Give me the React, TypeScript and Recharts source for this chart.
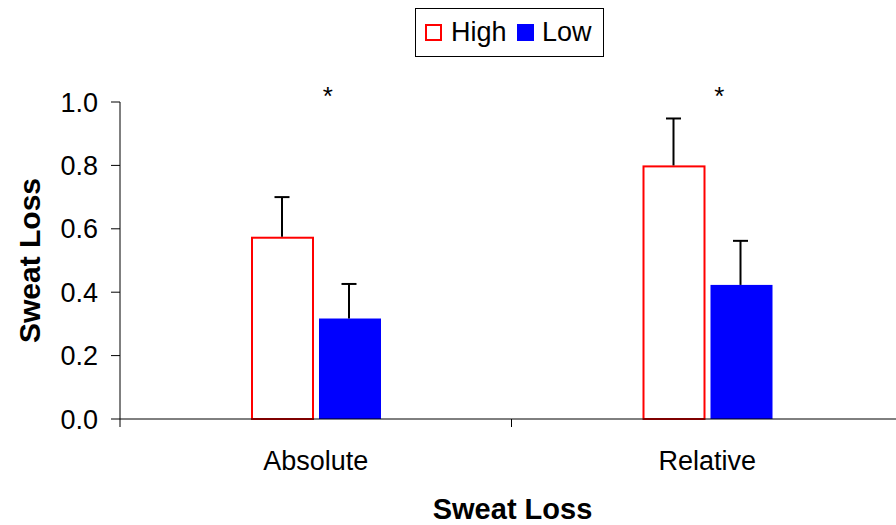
import React from 'react';
import { BarChart, Bar, XAxis, YAxis, ReferenceDot, Legend } from 'recharts';

// Group labels along the x axis
const categories = ['Absolute', 'Relative'];
// Mean values and upper error (SD) for each condition
const highValues = [0.575, 0.8];
const highErrors = [0.125, 0.148];
const lowValues = [0.317, 0.423];
const lowErrors = [0.109, 0.139];
// Groups marked as significantly different
const significantGroups = ['Absolute', 'Relative'];
const yTicks = [0, 0.2, 0.4, 0.6, 0.8, 1.0];
const starLevel = 1.038;

const FONT = "'Liberation Sans', Arial, Helvetica, sans-serif";

const data = categories.map((category, i) => ({
  category,
  high: highValues[i],
  highErr: highErrors[i],
  low: lowValues[i],
  lowErr: lowErrors[i],
}));

const series = [
  { key: 'high', errKey: 'highErr', name: 'High', fill: '#FFFFFF', stroke: '#FF0000' },
  { key: 'low', errKey: 'lowErr', name: 'Low', fill: '#0000FF', stroke: 'none' },
];

// Bar with an upward-only error whisker, scaled from the bar's own pixel height
const makeBarShape = (valueKey: string, errKey: string, fill: string, stroke: string) =>
  (props: any) => {
    const { x, y, width, height, payload } = props;
    const v = payload[valueKey];
    const e = payload[errKey];
    const pxPerUnit = v ? height / v : 0;
    const cx = x + width / 2;
    const top = y - e * pxPerUnit;
    const outlined = stroke !== 'none';
    return (
      <g>
        <rect
          x={outlined ? x + 1 : x + 1}
          y={outlined ? y + 1 : y}
          width={outlined ? width - 1 : width}
          height={outlined ? height - 1 : height}
          fill={fill}
          stroke={stroke}
          strokeWidth={outlined ? 2 : 0}
        />
        <line x1={cx} x2={cx} y1={y} y2={top} stroke="#000" strokeWidth={2} />
        <line x1={cx - 7.5} x2={cx + 7.5} y1={top} y2={top} stroke="#000" strokeWidth={2} />
      </g>
    );
  };

// Category label with tick marks on the band boundaries
const CategoryTick = (props: any) => {
  const { x, y, payload } = props;
  const half = payload && typeof payload.offset === 'number' ? payload.offset : 0;
  const axisY = y - 8;
  return (
    <g>
      {half > 0 && (
        <>
          <line x1={x - half} x2={x - half} y1={axisY} y2={axisY + 8} stroke="#000" strokeWidth={1} />
          <line x1={x + half} x2={x + half} y1={axisY} y2={axisY + 8} stroke="#000" strokeWidth={1} />
        </>
      )}
      <text x={x} y={axisY + 51} textAnchor="middle" fontSize={27} fill="#000" fontFamily={FONT}>
        {payload.value}
      </text>
    </g>
  );
};

const YTitle = (props: any) => {
  const vb = props.viewBox || { x: 0, y: 102, width: 120, height: 317 };
  const bx = vb.x + 40;
  const cy = vb.y + vb.height / 2;
  return (
    <text
      x={bx}
      y={cy}
      transform={`rotate(-90, ${bx}, ${cy})`}
      textAnchor="middle"
      fontSize={30}
      fontWeight="bold"
      fill="#000"
      fontFamily={FONT}
    >
      Sweat Loss
    </text>
  );
};

const XTitle = (props: any) => {
  const vb = props.viewBox || { x: 120, y: 419, width: 783, height: 106 };
  return (
    <text
      x={vb.x + vb.width / 2 + 1}
      y={vb.y + 100}
      textAnchor="middle"
      fontSize={29}
      fontWeight="bold"
      fill="#000"
      fontFamily={FONT}
    >
      Sweat Loss
    </text>
  );
};

const Star = (props: any) => {
  const { cx, cy } = props;
  return (
    <text x={cx + 12} y={cy + 15} textAnchor="middle" fontSize={26} fill="#000" fontFamily={FONT}>
      *
    </text>
  );
};

const LegendBox = () => {
  const swatchLeft = [10, 102];
  const textLeft = [36, 127];
  return (
    <div
      style={{
        position: 'relative',
        width: 189,
        height: 49,
        border: '1px solid #000',
        boxSizing: 'border-box',
        background: '#fff',
        fontFamily: FONT,
        fontSize: 27,
        lineHeight: '27px',
        color: '#000',
      }}
    >
      {series.map((s, i) => (
        <React.Fragment key={s.key}>
          <div
            style={{
              position: 'absolute',
              left: swatchLeft[i] - 1,
              top: 15,
              width: 17,
              height: 17,
              boxSizing: 'border-box',
              background: s.fill,
              border: s.stroke !== 'none' ? `2px solid ${s.stroke}` : 'none',
            }}
          />
          <span style={{ position: 'absolute', left: textLeft[i] - 1, top: 10, whiteSpace: 'nowrap' }}>
            {s.name}
          </span>
        </React.Fragment>
      ))}
    </div>
  );
};

export default function App() {
  return (
    <div
      style={{
        position: 'absolute',
        left: 0,
        top: 0,
        width: 896,
        height: 525,
        overflow: 'hidden',
        background: '#fff',
      }}
    >
      <BarChart
        width={903}
        height={525}
        data={data}
        margin={{ top: 102, right: 0, bottom: 0, left: 0 }}
        barSize={62}
        barGap={5}
      >
        <XAxis
          dataKey="category"
          height={106}
          axisLine={{ stroke: '#000', strokeWidth: 1 }}
          tickLine={false}
          tickSize={8}
          tickMargin={0}
          tick={<CategoryTick />}
          interval={0}
          label={<XTitle />}
        />
        <YAxis
          width={120}
          domain={[0, 1]}
          ticks={yTicks}
          interval={0}
          tickFormatter={(v: number) => v.toFixed(1)}
          axisLine={{ stroke: '#000', strokeWidth: 1 }}
          tickLine={{ stroke: '#000', strokeWidth: 1 }}
          tickSize={9}
          tickMargin={13}
          tick={{ fill: '#000', fontSize: 27, fontFamily: FONT }}
          label={<YTitle />}
        />
        <Legend
          layout="horizontal"
          verticalAlign="middle"
          align="center"
          content={<LegendBox />}
          wrapperStyle={{ left: 415, top: 8, width: 189, height: 49 }}
        />
        {series.map((s) => (
          <Bar
            key={s.key}
            dataKey={s.key}
            name={s.name}
            fill={s.fill}
            stroke={s.stroke}
            isAnimationActive={false}
            shape={makeBarShape(s.key, s.errKey, s.fill, s.stroke)}
          />
        ))}
        {significantGroups.map((g) => (
          <ReferenceDot
            key={g}
            x={g}
            y={starLevel}
            r={0}
            ifOverflow="visible"
            shape={<Star />}
          />
        ))}
      </BarChart>
    </div>
  );
}
